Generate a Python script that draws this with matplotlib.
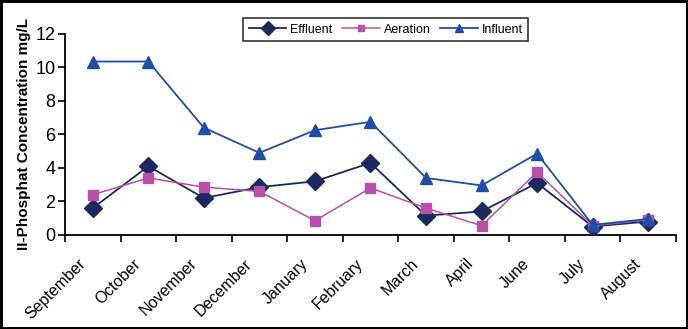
import matplotlib
matplotlib.use("Agg")
import matplotlib.pyplot as plt
import matplotlib.transforms as mtransforms
import numpy as np

months = ["September", "October", "November", "December", "January", "February",
          "March", "April", "June", "July", "August"]
effluent = [1.6, 4.1, 2.2, 2.85, 3.2, 4.3, 1.15, 1.4, 3.1, 0.5, 0.8]
aeration = [2.4, 3.4, 2.85, 2.6, 0.85, 2.8, 1.6, 0.55, 3.75, 0.55, 0.9]
influent = [10.35, 10.35, 6.4, 4.9, 6.25, 6.75, 3.4, 2.95, 4.85, 0.6, 0.95]

plt.rcParams["font.family"] = ["Liberation Sans", "DejaVu Sans"]

fig = plt.figure(figsize=(6.88, 3.29), dpi=100, edgecolor="black", linewidth=2.5)
ax = fig.add_axes([0.0945, 0.286, 0.888, 0.611])

x = np.arange(len(months))
ax.plot(x, effluent, color="#1b2a5e", marker="D", markersize=9.5, lw=1.3,
        label="Effluent", zorder=3)
ax.plot(x, aeration, color="#b84fa8", marker="s", markersize=7, lw=1.1,
        label="Aeration", zorder=4)
ax.plot(x, influent, color="#1f4ea6", marker="^", markersize=8.5, lw=1.3,
        label="Influent", zorder=5)

ax.set_xlim(-0.5, len(months) - 0.5)
ax.set_ylim(0, 12)
ax.set_yticks(range(0, 13, 2))
ax.set_xticks(np.arange(-0.5, len(months), 1.0))
ax.set_xticklabels([])
ax.set_xticks(x, minor=True)
ax.set_xticklabels(months, minor=True, rotation=45, ha="right", va="center",
                   rotation_mode="anchor", fontsize=11.5)
ax.tick_params(axis="x", which="minor", length=0, pad=19)
ax.tick_params(axis="x", which="major", length=5, width=1.2, direction="out")
ax.tick_params(axis="y", length=5, width=1.2, labelsize=13, pad=2)

# nudge the rotated month labels a little to the left
shift = mtransforms.ScaledTranslation(-7 / 72, 0, fig.dpi_scale_trans)
for lbl in ax.get_xticklabels(minor=True):
    lbl.set_transform(lbl.get_transform() + shift)

for side in ("top", "right"):
    ax.spines[side].set_visible(False)
for side in ("left", "bottom"):
    ax.spines[side].set_linewidth(1.3)

ax.set_ylabel("II-Phosphat Concentration mg/L", fontsize=11, fontweight="bold",
              labelpad=3)

leg = ax.legend(loc="upper center", bbox_to_anchor=(0.525, 1.11), ncol=3,
                frameon=True, fancybox=False, edgecolor="black", fontsize=9,
                handlelength=3.0, markerscale=0.7, borderpad=0.45,
                columnspacing=0.8, handletextpad=0.3)
leg.get_frame().set_linewidth(1.2)

fig.savefig("out.png", dpi=100, edgecolor=fig.get_edgecolor())
